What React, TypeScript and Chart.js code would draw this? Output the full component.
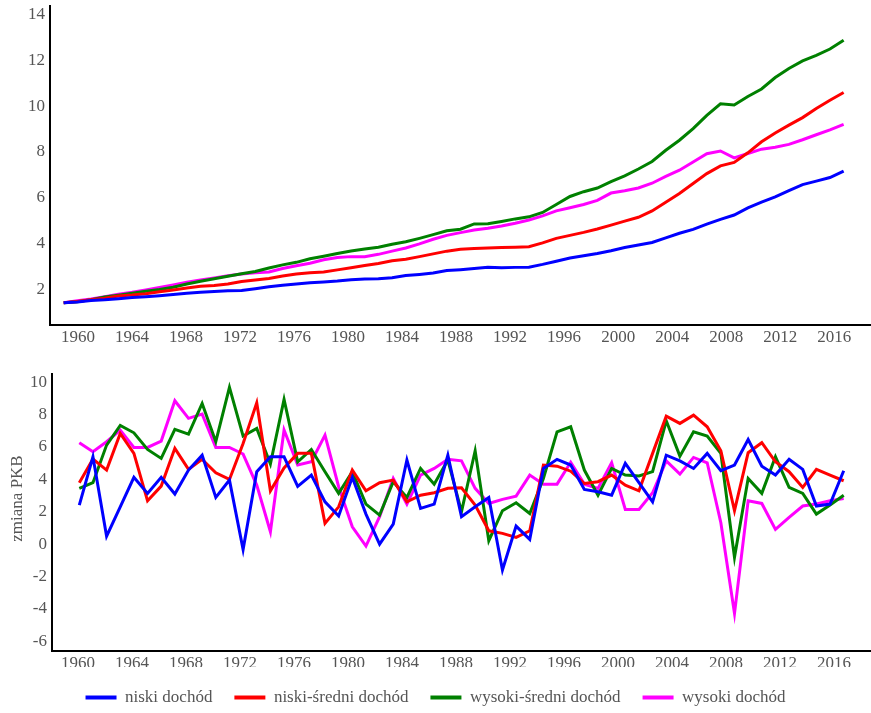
import React, { useEffect, useRef } from 'react';
import { Chart, registerables } from 'chart.js';

Chart.register(...registerables);

// ---------- data ----------
const years = [
  1960, 1961, 1962, 1963, 1964, 1965, 1966, 1967, 1968, 1969,
  1970, 1971, 1972, 1973, 1974, 1975, 1976, 1977, 1978, 1979,
  1980, 1981, 1982, 1983, 1984, 1985, 1986, 1987, 1988, 1989,
  1990, 1991, 1992, 1993, 1994, 1995, 1996, 1997, 1998, 1999,
  2000, 2001, 2002, 2003, 2004, 2005, 2006, 2007, 2008, 2009,
  2010, 2011, 2012, 2013, 2014, 2015, 2016, 2017,
];

const growthYears = [
  1961, 1962, 1963, 1964, 1965, 1966, 1967, 1968, 1969,
  1970, 1971, 1972, 1973, 1974, 1975, 1976, 1977, 1978, 1979,
  1980, 1981, 1982, 1983, 1984, 1985, 1986, 1987, 1988, 1989,
  1990, 1991, 1992, 1993, 1994, 1995, 1996, 1997, 1998, 1999,
  2000, 2001, 2002, 2003, 2004, 2005, 2006, 2007, 2008, 2009,
  2010, 2011, 2012, 2013, 2014, 2015, 2016, 2017,
];

const seriesNames = ['niski dochód', 'niski-średni dochód', 'wysoki-średni dochód', 'wysoki dochód'];
const seriesColors = ['#0000ff', '#ff0000', '#008000', '#ff00ff'];

// top panel: GDP level index
const lowIndex = [
  1.40, 1.44, 1.50, 1.53, 1.58, 1.63, 1.67, 1.71, 1.76, 1.82,
  1.86, 1.90, 1.93, 1.94, 2.02, 2.10, 2.17, 2.22, 2.28, 2.31,
  2.35, 2.41, 2.44, 2.45, 2.50, 2.59, 2.64, 2.70, 2.81, 2.85,
  2.90, 2.96, 2.93, 2.95, 2.96, 3.08, 3.22, 3.36, 3.46, 3.56,
  3.68, 3.82, 3.93, 4.04, 4.24, 4.44, 4.61, 4.84, 5.05, 5.24,
  5.55, 5.80, 6.03, 6.31, 6.57, 6.72, 6.88, 7.16,
];
const lowerMiddleIndex = [
  1.40, 1.46, 1.53, 1.60, 1.70, 1.74, 1.80, 1.88, 1.96, 2.05,
  2.12, 2.16, 2.22, 2.33, 2.40, 2.46, 2.57, 2.66, 2.72, 2.75,
  2.84, 2.93, 3.03, 3.12, 3.24, 3.31, 3.42, 3.54, 3.66, 3.74,
  3.78, 3.80, 3.82, 3.83, 3.85, 4.02, 4.22, 4.35, 4.48, 4.63,
  4.80, 4.97, 5.14, 5.42, 5.80, 6.18, 6.62, 7.05, 7.39, 7.54,
  7.96, 8.44, 8.83, 9.17, 9.50, 9.90, 10.26, 10.60,
];
const upperMiddleIndex = [
  1.40, 1.45, 1.54, 1.65, 1.73, 1.82, 1.91, 1.98, 2.08, 2.22,
  2.34, 2.45, 2.56, 2.67, 2.77, 2.92, 3.06, 3.17, 3.33, 3.44,
  3.56, 3.67, 3.75, 3.83, 3.96, 4.07, 4.22, 4.38, 4.55, 4.62,
  4.85, 4.86, 4.96, 5.07, 5.16, 5.35, 5.70, 6.05, 6.26, 6.42,
  6.70, 6.95, 7.25, 7.58, 8.07, 8.51, 9.02, 9.60, 10.10, 10.05,
  10.42, 10.75, 11.25, 11.65, 11.98, 12.22, 12.50, 12.88,
];
const highIndex = [
  1.40, 1.49, 1.57, 1.67, 1.78, 1.86, 1.96, 2.07, 2.18, 2.30,
  2.40, 2.49, 2.58, 2.66, 2.71, 2.75, 2.90, 3.02, 3.13, 3.28,
  3.38, 3.42, 3.42, 3.52, 3.66, 3.80, 3.98, 4.18, 4.35, 4.47,
  4.58, 4.66, 4.76, 4.88, 5.02, 5.20, 5.42, 5.56, 5.70, 5.88,
  6.20, 6.30, 6.42, 6.63, 6.93, 7.20, 7.56, 7.92, 8.04, 7.74,
  7.93, 8.12, 8.20, 8.33, 8.53, 8.75, 8.96, 9.20,
];

// bottom panel: annual GDP change (%)
const lowGrowth = [
  2.41, 5.39, 0.49, 2.30, 4.12, 3.13, 4.12, 3.09, 4.57,
  5.49, 2.88, 3.95, -0.33, 4.47, 5.39, 5.39, 3.56, 4.26, 2.61,
  1.73, 4.12, 1.85, 0.00, 1.23, 5.19, 2.20, 2.47, 5.49, 1.69,
  2.30, 2.88, -1.60, 1.11, 0.29, 4.67, 5.23, 4.88, 3.37, 3.23,
  3.02, 4.98, 3.79, 2.61, 5.49, 5.14, 4.67, 5.60, 4.53, 4.88,
  6.46, 4.81, 4.26, 5.23, 4.61, 2.35, 2.47, 4.53,
];
const lowerMiddleGrowth = [
  3.79, 5.25, 4.57, 6.83, 5.60, 2.67, 3.58, 5.91, 4.61,
  5.23, 4.40, 3.99, 6.21, 8.72, 3.29, 4.70, 5.60, 5.60, 1.28,
  2.30, 4.57, 3.29, 3.79, 3.95, 2.61, 3.02, 3.17, 3.44, 3.48,
  2.41, 0.82, 0.66, 0.41, 0.82, 4.88, 4.81, 4.50, 3.74, 3.85,
  4.26, 3.64, 3.29, 5.60, 7.90, 7.45, 7.96, 7.24, 5.76, 2.06,
  5.64, 6.26, 5.08, 4.47, 3.50, 4.61, 4.26, 3.91,
];
const upperMiddleGrowth = [
  3.44, 3.79, 6.11, 7.33, 6.87, 5.84, 5.29, 7.08, 6.79,
  8.68, 6.32, 9.67, 6.67, 7.14, 4.94, 8.93, 5.08, 5.84, 4.47,
  3.13, 4.47, 2.47, 1.79, 3.85, 2.88, 4.67, 3.70, 5.19, 2.00,
  5.76, 0.21, 2.06, 2.55, 1.89, 4.05, 6.93, 7.24, 4.57, 3.02,
  4.67, 4.26, 4.20, 4.47, 7.61, 5.43, 6.93, 6.67, 5.60, -0.82,
  4.05, 3.13, 5.39, 3.50, 3.13, 1.85, 2.41, 3.02,
];
const highGrowth = [
  6.26, 5.70, 6.32, 7.04, 5.97, 5.97, 6.36, 8.85, 7.76,
  8.02, 5.97, 5.97, 5.56, 3.64, 0.76, 7.04, 4.88, 5.08, 6.73,
  3.54, 1.07, -0.12, 1.69, 4.05, 2.47, 4.26, 4.67, 5.23, 5.14,
  3.44, 2.51, 2.76, 2.96, 4.26, 3.70, 3.70, 5.05, 3.70, 3.44,
  5.02, 2.14, 2.14, 3.17, 5.14, 4.32, 5.35, 5.02, 1.32, -4.28,
  2.67, 2.51, 0.91, 1.65, 2.35, 2.47, 2.67, 2.82,
];

const xTickLabels = ['1960', '1964', '1968', '1972', '1976', '1980', '1984', '1988', '1992', '1996', '2000', '2004', '2008', '2012', '2016'];
const topYTicks = [2, 4, 6, 8, 10, 12, 14];
const bottomYTicks = [-6, -4, -2, 0, 2, 4, 6, 8, 10];
const bottomYTitle = 'zmiana PKB';

// ---------- styling ----------
const FONT = "'Liberation Serif', 'Times New Roman', serif";
const TEXT = '#555555';
const FONT_SIZE = 17;

function makeDatasets(xs: number[], seriesList: number[][]) {
  return seriesList.map((vals, i) => ({
    label: seriesNames[i],
    data: xs.map((x, j) => ({ x, y: vals[j] })),
    borderColor: seriesColors[i],
    backgroundColor: seriesColors[i],
    borderWidth: 3,
    pointRadius: 0,
    fill: false,
    tension: 0,
  }));
}

function xAxis(base: number, step: number, height: number) {
  return {
    type: 'linear' as const,
    min: 1959,
    max: 2019,
    grid: { display: false, drawTicks: false },
    border: { display: true, color: '#000000', width: 2 },
    ticks: {
      color: TEXT,
      font: { family: FONT, size: FONT_SIZE },
      padding: 2,
      maxRotation: 0,
      minRotation: 0,
      autoSkip: false,
      callback: (_v: any, i: number) => xTickLabels[i],
    },
    afterBuildTicks: (s: any) => {
      s.ticks = xTickLabels.map((_l, k) => ({ value: base + step * k }));
    },
    afterFit: (s: any) => {
      s.height = height;
      s.paddingLeft = 0;
      s.paddingRight = 0;
    },
  };
}

function yAxis(min: number, max: number, tickVals: number[], width: number) {
  return {
    type: 'linear' as const,
    min,
    max,
    grid: { display: false, drawTicks: false },
    border: { display: true, color: '#000000', width: 2 },
    ticks: {
      color: TEXT,
      font: { family: FONT, size: FONT_SIZE },
      padding: 5,
      autoSkip: false,
      callback: (v: any) => String(v),
    },
    afterBuildTicks: (s: any) => {
      s.ticks = tickVals.map((v) => ({ value: v }));
    },
    afterFit: (s: any) => {
      s.width = width;
      s.paddingTop = 0;
      s.paddingBottom = 0;
    },
  };
}

const yTitlePlugin = {
  id: 'yTitleBottom',
  afterDraw(chart: any) {
    const { ctx, chartArea } = chart;
    ctx.save();
    ctx.translate(18, (chartArea.top + chartArea.bottom) / 2 - 14);
    ctx.rotate(-Math.PI / 2);
    ctx.font = `${FONT_SIZE}px ${FONT}`;
    ctx.fillStyle = TEXT;
    ctx.textAlign = 'center';
    ctx.textBaseline = 'middle';
    ctx.fillText(bottomYTitle, 0, 0);
    ctx.restore();
  },
};

export default function App() {
  const topRef = useRef<HTMLCanvasElement | null>(null);
  const bottomRef = useRef<HTMLCanvasElement | null>(null);

  useEffect(() => {
    Chart.defaults.font.family = FONT;
    const top = new Chart(topRef.current!, {
      type: 'line',
      data: {
        datasets: makeDatasets(years, [lowIndex, lowerMiddleIndex, upperMiddleIndex, highIndex]) as any,
      },
      options: {
        animation: false,
        responsive: false,
        layout: { padding: { top: 6, left: 0, right: 0, bottom: 0 } },
        plugins: { legend: { display: false }, tooltip: { enabled: false } },
        scales: {
          x: xAxis(1961.05, 3.947, 20) as any,
          y: yAxis(0.43, 14.38, topYTicks, 50) as any,
        },
      },
    });

    const bottom = new Chart(bottomRef.current!, {
      type: 'line',
      data: {
        datasets: makeDatasets(growthYears, [lowGrowth, lowerMiddleGrowth, upperMiddleGrowth, highGrowth]) as any,
      },
      options: {
        animation: false,
        responsive: false,
        layout: { padding: { top: 29, left: 0, right: 0, bottom: 0 } },
        plugins: {
          tooltip: { enabled: false },
          legend: {
            display: true,
            position: 'bottom',
            labels: {
              color: TEXT,
              font: { family: FONT, size: FONT_SIZE },
              boxWidth: 31,
              boxHeight: 4,
              padding: 22,
              generateLabels: (chart: any) =>
                chart.data.datasets.map((d: any, i: number) => ({
                  text: d.label,
                  fillStyle: d.borderColor,
                  strokeStyle: d.borderColor,
                  lineWidth: 0,
                  hidden: false,
                  datasetIndex: i,
                  fontColor: TEXT,
                })),
            },
          },
        },
        scales: {
          x: xAxis(1960.9, 3.956, 16) as any,
          y: yAxis(-6.6, 10.5, bottomYTicks, 52) as any,
        },
      },
      plugins: [yTitlePlugin],
    });

    return () => {
      top.destroy();
      bottom.destroy();
    };
  }, []);

  return (
    <div style={{ position: 'absolute', left: 0, top: 0, width: 871, height: 713, overflow: 'hidden', background: '#ffffff' }}>
      <canvas ref={topRef} width={871} height={345} style={{ position: 'absolute', left: 0, top: 0, width: 871, height: 345 }} />
      <canvas ref={bottomRef} width={871} height={371} style={{ position: 'absolute', left: 0, top: 345, width: 871, height: 371 }} />
    </div>
  );
}
